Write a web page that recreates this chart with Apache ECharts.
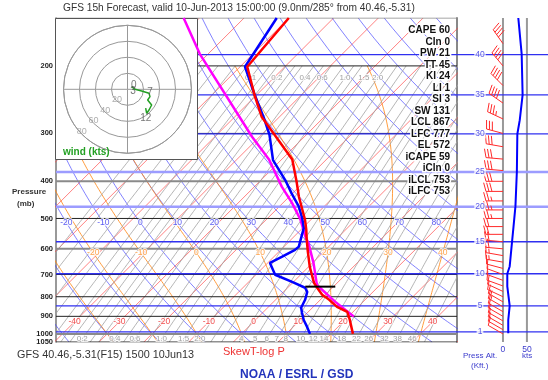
<!DOCTYPE html>
<html><head><meta charset="utf-8">
<script src="https://cdn.jsdelivr.net/npm/echarts@6/dist/echarts.min.js"></script>
<style>html,body{margin:0;padding:0;background:#fff}#c{width:548px;height:380px}</style>
</head><body><div id="c"></div>
<script>
// ---------------- data ----------------
const PRESSURE_TICKS = [1050, 1000, 900, 800, 700, 600, 500, 400, 300, 200];
const ISOBARS = [1050, 1000, 900, 800, 700, 600, 500, 400, 300, 200, 150];
const ISOTHERMS = [-110, -100, -90, -80, -70, -60, -50, -40, -30, -20, -10, 0, 10, 20, 30, 40, 50];
const ISOTHERM_LABELS = [-40, -30, -20, -10, 0, 10, 20, 30, 40];
const DRY_ADIABATS = [-40, -30, -20, -10, 0, 10, 20, 30, 40, 50, 60, 70, 80, 90, 100, 110, 120, 130, 140, 150, 160, 170];
const DRY_LABELS = [-20, -10, 0, 10, 20, 30, 40, 50, 60, 70, 80];
const MOIST_ADIABATS = [-30, -20, -10, 0, 10, 20, 30, 40];
const MOIST_LABELS = [-20, -10, 0, 10, 20, 30, 40];
const MIXING_RATIOS = [0.02, 0.03, 0.05, 0.07, 0.1, 0.13, 0.16, 0.2, 0.25, 0.3, 0.4, 0.5, 0.6, 0.8, 1.0, 1.2, 1.5, 2.0, 2.5, 3, 4, 5, 6, 7, 8, 10, 12, 14, 16, 18, 22, 26, 32, 38, 46, 55];
const MIX_LABELS_BOTTOM = ['0.2', '0.4', '0.6', '1.0', '1.5', '2.0', '4', '5', '6', '7', '8', '10', '12', '14', '18', '22', '26', '32', '38', '46'];
const MIX_LABELS_TOP = ['0.1', '0.2', '0.4', '0.6', '1.0', '1.5', '2.0'];

// sounding (pressure mb, temperature C)
const TEMP_P = [1000, 920, 876, 850, 815, 791, 758, 736, 669, 611, 569, 535, 504, 439, 399, 351, 302, 272, 241, 201, 150];
const TEMP_C = [24.9, 21.1, 18.7, 15.3, 12.0, 9.3, 6.6, 4.8, 0.3, -3.5, -6.4, -8.8, -11.3, -17.8, -21.9, -27.6, -37.2, -43.9, -49.9, -58.4, -60.0];
const DEW_P = [1000, 959, 920, 881, 855, 815, 777, 758, 732, 701, 653, 630, 604, 592, 552, 530, 499, 465, 430, 397, 352, 302, 272, 235, 201, 150];
const DEW_C = [15.3, 13.1, 10.8, 8.8, 7.5, 6.6, 5.3, 3.9, -0.3, -5.7, -9.5, -8.2, -6.8, -6.7, -8.6, -9.7, -12.3, -15.7, -20.2, -24.6, -31.8, -38.3, -43.5, -51.1, -58.9, -62.7];
const PARCEL_P = [901, 824, 745, 654, 580, 557, 504, 456, 413, 351, 306, 186, 150];
const PARCEL_C = [21.2, 13.7, 5.9, 0.3, -5.3, -7.5, -12.3, -17.9, -23.9, -32.8, -41.7, -71.9, -83.5];
const LCL_MARK_P = 753;
const LCL_MARK_T = [3.7, 10.4];

// wind speed profile (kt)
const SPD_P = [150, 186, 238, 277, 301, 377, 465, 525, 574, 667, 697, 752, 845, 920, 996];
const SPD_KT = [32, 39, 41, 35, 30, 29, 26, 22, 19, 14, 9, 9, 14, 11, 11];
// wind barbs
const BARB_P = [175, 200, 225, 250, 275, 300, 325, 350, 375, 400, 425, 450, 475, 500, 525, 550, 575, 600, 625, 650, 675, 700, 725, 750, 775, 800, 825, 850, 875, 900, 925, 950, 975, 1000];
const BARB_DIR = [325, 320, 315, 305, 295, 285, 280, 275, 275, 270, 270, 270, 270, 270, 270, 270, 275, 275, 280, 280, 285, 290, 290, 290, 295, 295, 300, 300, 300, 300, 300, 300, 300, 300];
const BARB_KT = [38, 40, 41, 40, 36, 31, 30, 30, 29, 28, 28, 27, 26, 25, 22, 20, 19, 18, 16, 15, 12, 9, 9, 9, 10, 12, 13, 14, 12, 11, 11, 11, 11, 11];
// altitude scale
const ALT_KFT = [1, 5, 10, 15, 20, 25, 30, 35, 40];
const ALT_P = [988, 845, 697, 575, 466, 378, 301, 238, 187];
const SPEED_TICKS = [0, 50];

// hodograph (kt)
const HODO_U = [5.2, 9.4, 17.7, 26.9, 28.1, 25.2, 30.2, 26.9, 24.0, 22.7];
const HODO_V = [3.3, 0.0, -2.1, -5.0, -9.2, -13.4, -19.6, -25.9, -30.0, -23.4];
const HODO_LABEL_IDX = [0, 1, 4, 8];
const HODO_LABEL_TXT = ['0', '3', '7', '12'];
const HODO_RINGS = [20, 40, 60, 80];

// indices
const STAT_NAMES = ['CAPE', 'CIn', 'PW', 'TT', 'KI', 'LI', 'SI', 'SW', 'LCL', 'LFC', 'EL', 'iCAPE', 'iCIn', 'iLCL', 'iLFC'];
const STAT_VALUES = [60, 0, 21, 45, 24, 1, 3, 131, 867, 777, 572, 59, 0, 753, 753];

const TITLE = 'GFS 15h Forecast, valid 10-Jun-2013 15:00:00 (9.0nm/285\u00b0 from 40.46,-5.31)';
const FOOT = 'GFS 40.46,-5.31(F15) 1500 10Jun13';

// ---------------- geometry helpers ----------------
const FONT = '"Liberation Sans", Arial, sans-serif';
const K = 37.2;               // skew (deg C per ln-pressure unit)
const XMIN = -41.45, XMAX = 48.15;
const YMIN = Math.log(150), YMAX = Math.log(1050);
const SK = (T, p) => T + K * Math.log(1000 / p);
const LY = p => Math.log(p);
const PSTEPS = []; for (let p = 1050; p >= 150; p -= 10) PSTEPS.push(p);

function esat(Tc) { return 6.112 * Math.exp(17.67 * Tc / (Tc + 243.5)); }
function moistLapse(Tk, p) {
  const Rd = 287.04, cp = 1005.7, L = 2.501e6, eps = 0.622;
  const es = esat(Tk - 273.15), rs = eps * es / (p - es);
  return (Rd * Tk + L * rs) / (p * (cp + L * L * rs * eps / (Rd * Tk * Tk)));
}
function moistTable(thw, pTop) {
  const tab = {}; let T = thw + 273.15, p = 1000; tab[1000] = T;
  while (p < 1050) { const k1 = moistLapse(T, p), k2 = moistLapse(T + k1, p + 1); T += 0.5 * (k1 + k2); p += 1; tab[p] = T; }
  T = thw + 273.15; p = 1000;
  while (p > pTop) { const k1 = moistLapse(T, p), k2 = moistLapse(T - k1, p - 1); T -= 0.5 * (k1 + k2); p -= 1; tab[p] = T; }
  return tab;
}
const dryT = (th, p) => (th + 273.15) * Math.pow(p / 1000, 0.2857) - 273.15;
function mixT(w, p) { const e = w * p / (622 + w); const l = Math.log(e / 6.112); return 243.5 * l / (17.67 - l); }

const series = [];
function skewLine(pts, color, width, z) {
  series.push({ type: 'line', xAxisIndex: 0, yAxisIndex: 0, data: pts.map(([T, p]) => [SK(T, p), LY(p)]),
    symbol: 'none', silent: true, animation: false, z: z || 2, lineStyle: { color, width } });
}
function flatLine(p, color, width, z, xi) {
  const xr = xi === 1 ? [-96, 94] : [XMIN, XMAX];
  series.push({ type: 'line', xAxisIndex: xi || 0, yAxisIndex: xi || 0, data: [[xr[0], LY(p)], [xr[1], LY(p)]],
    symbol: 'none', silent: true, animation: false, z: z || 3, lineStyle: { color, width } });
}
function labels(items, color, size, z, extra) {
  series.push({ type: 'scatter', xAxisIndex: 0, yAxisIndex: 0, symbolSize: 0, silent: true, animation: false, z: z || 5,
    data: items.map(it => ({ name: it[2], value: [it[0], it[1]] })),
    label: Object.assign({ show: true, position: 'inside', formatter: '{b}', color, fontSize: size, fontFamily: FONT,
      textBorderColor: '#fff', textBorderWidth: 2 }, extra || {}) });
}

// background families
ISOTHERMS.forEach(t => skewLine([[t, 1050], [t, 150]], 'rgba(255,70,70,0.85)', 0.8));
DRY_ADIABATS.forEach(th => skewLine(PSTEPS.map(p => [dryT(th, p), p]), 'rgba(70,70,255,0.85)', 0.8));
const moistTabs = MOIST_ADIABATS.map(th => moistTable(th, 200));
moistTabs.forEach(tab => skewLine(PSTEPS.filter(p => p >= 200).map(p => [tab[p] - 273.15, p]), 'rgba(255,140,30,0.95)', 0.9));
MIXING_RATIOS.forEach(w => skewLine(PSTEPS.filter(p => p >= 200).map(p => [mixT(w, p), p]), '#a2a2a2', 0.8));

// isobars
const heavy = [1000, 600, 400];
ISOBARS.forEach(p => flatLine(p, heavy.includes(p) ? '#8a8a8a' : (p === 150 ? '#888' : '#222'), heavy.includes(p) ? 2 : 1, 3));
// altitude lines
const lav = [20, 25];
ALT_KFT.forEach((k, i) => {
  const c = lav.includes(k) ? '#9c9cff' : '#3030f0', w = lav.includes(k) ? 2.5 : 1.3;
  flatLine(ALT_P[i], c, w, 4, 0); flatLine(ALT_P[i], c, w, 4, 1);
});

// family labels
labels(ISOTHERM_LABELS.map(t => [SK(t, 930), LY(930), String(t)]), '#ee2222', 8.5);
labels(DRY_LABELS.map(th => [SK(dryT(th, 513), 513), LY(513), String(th)]), '#3333ee', 8.5);
labels(MOIST_LABELS.map(th => { const tab = moistTabs[MOIST_ADIABATS.indexOf(th)]; return [SK(tab[615] - 273.15, 615), LY(615), String(th)]; }), '#ff8c1e', 8.5);
labels(MIX_LABELS_BOTTOM.map(s => [SK(mixT(+s, 1030), 1030), LY(1030), s]), '#888', 8);
labels(MIX_LABELS_TOP.map(s => [SK(mixT(+s, 215), 215), LY(215), s]), '#888', 8);

// sounding
skewLine(PARCEL_P.map((p, i) => [PARCEL_C[i], p]), '#ff00ff', 2.5, 30);
skewLine(DEW_P.map((p, i) => [DEW_C[i], p]), '#0000ff', 2.5, 31);
skewLine(TEMP_P.map((p, i) => [TEMP_C[i], p]), '#ff0000', 2.5, 32);
skewLine(LCL_MARK_T.map(t => [t, LCL_MARK_P]), '#000', 2, 33);

// right panel
[0, 50].forEach(v => series.push({ type: 'line', xAxisIndex: 1, yAxisIndex: 1, data: [[v, LY(1050)], [v, LY(150)]],
  symbol: 'none', silent: true, animation: false, z: 3, lineStyle: { color: '#999', width: 2 } }));
series.push({ type: 'line', xAxisIndex: 1, yAxisIndex: 1, data: SPD_P.map((p, i) => [SPD_KT[i], LY(p)]),
  symbol: 'none', silent: true, animation: false, z: 8, lineStyle: { color: '#0000ff', width: 2 } });
series.push({ type: 'scatter', xAxisIndex: 1, yAxisIndex: 1, symbolSize: 0, silent: true, animation: false, z: 9,
  data: ALT_KFT.map((k, i) => ({ name: String(k), value: [-48, LY(ALT_P[i])] })),
  label: { show: true, position: 'inside', formatter: '{b}', color: '#3030e0', fontSize: 8.5, fontFamily: FONT,
    backgroundColor: '#fff', padding: [0, 1] } });
function renderBarb(params, api) {
  const b = api.coord([api.value(0), api.value(1)]);
  const spd = api.value(2), d = api.value(3) * Math.PI / 180;
  const sx = Math.sin(d), sy = -Math.cos(d), L = 17;
  const tip = [b[0] + sx * L, b[1] + sy * L];
  const px = -sy, py = sx, a = 15 * Math.PI / 180;
  const fx = px * Math.cos(a) + sx * Math.sin(a), fy = py * Math.cos(a) + sy * Math.sin(a);
  const st = { stroke: '#ff2a2a', lineWidth: 1 };
  const ch = [{ type: 'line', shape: { x1: b[0], y1: b[1], x2: tip[0], y2: tip[1] }, style: st }];
  const r = Math.round(spd / 5) * 5; const full = Math.floor(r / 10), half = r % 10 >= 5;
  let pos = 0;
  for (let i = 0; i < full; i++) {
    const x = tip[0] - sx * pos, y = tip[1] - sy * pos;
    ch.push({ type: 'line', shape: { x1: x, y1: y, x2: x + fx * 9, y2: y + fy * 9 }, style: st }); pos += 3;
  }
  if (half) { if (pos === 0) pos = 3; const x = tip[0] - sx * pos, y = tip[1] - sy * pos;
    ch.push({ type: 'line', shape: { x1: x, y1: y, x2: x + fx * 4.5, y2: y + fy * 4.5 }, style: st }); }
  return { type: 'group', children: ch };
}
series.push({ type: 'custom', xAxisIndex: 1, yAxisIndex: 1, silent: true, animation: false, z: 7,
  data: BARB_P.map((p, i) => [0, LY(p), BARB_KT[i], BARB_DIR[i]]), encode: { x: 0, y: 1 }, renderItem: renderBarb });

// hodograph
const hodo = HODO_U.map((u, i) => { const v = HODO_V[i]; return [Math.sqrt(u * u + v * v), (Math.atan2(u, v) * 180 / Math.PI + 360) % 360]; });
series.push({ type: 'line', coordinateSystem: 'polar', polarIndex: 0, data: hodo, symbol: 'none', silent: true, animation: false, z: 20,
  lineStyle: { color: '#22a022', width: 1.5 } });
series.push({ type: 'scatter', coordinateSystem: 'polar', polarIndex: 0, symbolSize: 0, silent: true, animation: false, z: 21,
  data: HODO_RINGS.map(r => ({ name: String(r), value: [r - 2, 227] })),
  label: { show: true, position: 'inside', formatter: '{b}', color: '#999', fontSize: 9, fontFamily: FONT } });
const HODO_OFF = [[2, -1], [-2, 2], [0, -4], [-1, 5]];
series.push({ type: 'scatter', coordinateSystem: 'polar', polarIndex: 0, symbolSize: 0, silent: true, animation: false, z: 21,
  data: HODO_LABEL_IDX.map((k, i) => ({ name: HODO_LABEL_TXT[i], value: hodo[k], label: { offset: HODO_OFF[i] } })),
  label: { show: true, position: 'inside', formatter: '{b}', color: '#555', fontSize: 10, fontFamily: FONT } });

// ---------------- texts ----------------
const txt = (text, x, y, font, fill, align, extra) => Object.assign({ type: 'text', z: 50, silent: true,
  style: { text, x, y, font, fill, textAlign: align || 'left', textVerticalAlign: 'middle' } }, extra || {});
const graphics = [
  { type: 'rect', z: 10, silent: true, shape: { x: 55.5, y: 18.5, width: 142, height: 141 }, style: { fill: '#fff', stroke: '#555', lineWidth: 1 } },
  txt(TITLE, 63, 8.5, '10.2px ' + FONT, '#333'),
  txt(FOOT, 17, 355, '10.8px ' + FONT, '#333'),
  txt('SkewT-log P', 223, 352, '11px ' + FONT, '#ee3333'),
  txt('NOAA / ESRL / GSD', 240, 374.5, 'bold 12px ' + FONT, '#2233bb'),
  txt('Pressure', 12, 192, 'bold 8px ' + FONT, '#333'),
  txt('(mb)', 17, 204, 'bold 8px ' + FONT, '#333'),
  txt('wind (kts)', 63, 152.5, 'bold 10px ' + FONT, '#22a022'),
  txt('Press Alt.', 463, 356, '8px ' + FONT, '#3a3acc'),
  txt('(Kft.)', 471, 366, '8px ' + FONT, '#3a3acc'),
  txt('kts', 522, 356, '8px ' + FONT, '#3a3acc')
];
STAT_NAMES.forEach((n, i) => {
  const t = txt(n + ' ' + STAT_VALUES[i], 450, 30.7 + i * 11.5, 'bold 10px ' + FONT, '#111', 'right');
  t.style.stroke = '#fff'; t.style.lineWidth = 3; t.style.strokeFirst = true;
  graphics.push(t);
});

const option = {
  animation: false,
  grid: [
    { left: 56, right: 91, top: 18, bottom: 38 },
    { left: 457, right: 0, top: 18, bottom: 38 }
  ],
  xAxis: [
    { gridIndex: 0, type: 'value', min: XMIN, max: XMAX, show: false },
    { gridIndex: 1, type: 'value', min: -96, max: 94, axisLine: { show: false, onZero: false }, axisTick: { show: false }, splitLine: { show: false },
      axisLabel: { customValues: SPEED_TICKS, color: '#3a3acc', fontSize: 8.5, fontFamily: FONT, margin: 3 } }
  ],
  yAxis: [
    { gridIndex: 0, type: 'value', min: YMIN, max: YMAX, inverse: true, splitLine: { show: false }, axisTick: { show: false },
      axisLine: { show: true, onZero: false, lineStyle: { color: '#777', width: 1.5 } },
      axisLabel: { customValues: PRESSURE_TICKS.map(LY), formatter: v => String(Math.round(Math.exp(v))), color: '#222',
        fontSize: 7.5, fontWeight: 'bold', fontFamily: FONT, margin: 3 } },
    { gridIndex: 1, type: 'value', min: YMIN, max: YMAX, inverse: true, splitLine: { show: false }, axisTick: { show: false },
      axisLabel: { show: false }, axisLine: { show: true, onZero: false, lineStyle: { color: '#888', width: 2 } } }
  ],
  polar: { center: [127.5, 89.3], radius: 64 },
  angleAxis: { type: 'value', min: 0, max: 360, interval: 90, startAngle: 90, clockwise: true, z: 15,
    axisLine: { show: true, lineStyle: { color: '#999' } }, axisTick: { show: false }, axisLabel: { show: false },
    splitLine: { show: true, lineStyle: { color: '#999' } } },
  radiusAxis: { type: 'value', min: 0, max: 80, interval: 20, z: 15, axisLine: { show: false }, axisTick: { show: false },
    axisLabel: { show: false }, splitLine: { show: true, lineStyle: { color: '#999' } } },
  series,
  graphic: { elements: graphics }
};
const chart = echarts.init(document.getElementById('c'), null, { renderer: 'canvas' });
chart.setOption(option);
</script></body></html>
